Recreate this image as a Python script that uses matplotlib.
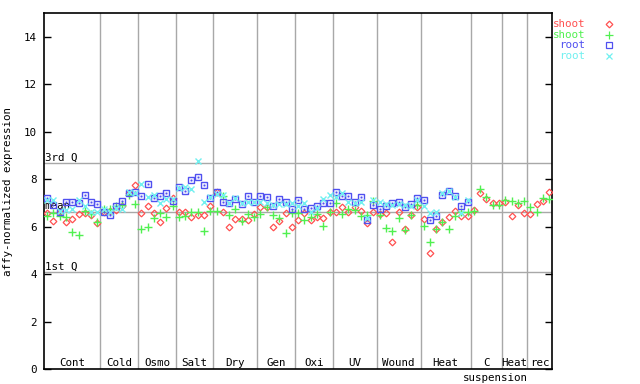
import matplotlib

matplotlib.use("Agg")

import matplotlib.pyplot as plt
import numpy as np

# sample groups along the x axis (number of chips in each)
categorias = ["Cont", "Cold", "Osmo", "Salt", "Dry", "Gen", "Oxi", "UV",
              "Wound", "Heat", "C", "Heat", "rec"]
sub_etiquetas = ["", "", "", "", "", "", "", "", "", "", "suspension", "", ""]
n_por_categoria = [9, 6, 6, 6, 7, 6, 6, 7, 7, 8, 5, 4, 4]

# reference lines
tercer_q = 8.67
media = 6.62
primer_q = 4.07

# shoot replicate 1 (red diamonds)
shoot_1 = [6.56, 6.25, 6.62, 6.20, 6.31, 6.52, 6.58, 6.49, 6.15,
           6.60, 6.66, 6.70, 6.85, 7.40, 7.75,
           6.56, 6.87, 6.56, 6.21, 6.77, 7.20,
           6.63, 6.63, 6.42, 6.49, 6.49, 6.87,
           7.47, 6.60, 6.00, 6.31, 6.31, 6.28, 6.53,
           6.81, 6.81, 5.97, 6.24, 6.56, 6.00,
           6.28, 6.59, 6.28, 6.42, 6.35, 6.63,
           6.63, 6.81, 6.63, 6.84, 6.66, 6.16, 6.63,
           6.52, 6.56, 5.35, 6.63, 5.90, 6.49, 6.82,
           6.31, 4.87, 5.88, 6.21, 6.39, 6.66, 6.45, 6.46,
           6.70, 7.40, 7.15, 7.01, 7.01,
           7.05, 6.45, 6.91, 6.56,
           6.53, 6.95, 7.08, 7.47]

# shoot replicate 2 (green plus)
shoot_2 = [6.45, 6.56, 6.45, 6.42, 5.79, 5.63, 6.66, 6.55, 6.18,
           6.74, 6.73, 6.87, 6.91, 7.35, 6.95,
           5.90, 5.97, 6.38, 6.59, 6.39, 6.87,
           6.42, 6.45, 6.60, 6.60, 5.82, 6.66,
           6.66, 7.30, 6.49, 6.73, 6.24, 6.52, 6.42,
           6.52, 6.81, 6.48, 6.38, 5.72, 6.56,
           6.59, 6.28, 6.42, 6.53, 6.03, 6.63,
           6.98, 6.53, 6.73, 6.70, 6.45, 6.49, 7.09,
           6.49, 5.93, 5.82, 6.35, 5.85, 6.49, 6.91,
           6.03, 5.34, 5.88, 6.18, 5.88, 6.46, 6.60, 6.63,
           6.67, 7.57, 7.23, 6.91, 6.91,
           7.12, 7.08, 7.01, 7.08,
           6.84, 6.63, 7.22, 7.15]

# root replicate 1 (blue squares)
root_1 = [7.22, 6.90, 6.63, 7.02, 7.02, 7.00, 7.34, 7.02, 6.95,
          6.62, 6.49, 6.86, 7.07, 7.40, 7.45,
          7.29, 7.78, 7.19, 7.29, 7.41, 7.08,
          7.65, 7.52, 7.95, 8.08, 7.75, 7.19,
          7.45, 7.02, 6.98, 7.15, 6.94, 7.29, 7.05,
          7.29, 7.23, 6.86, 7.15, 7.05, 6.73,
          7.10, 6.73, 6.77, 6.87, 6.98, 6.98,
          7.47, 7.27, 7.27, 7.05, 7.23, 6.28, 6.92,
          6.73, 6.87, 6.98, 7.02, 6.83, 6.96, 7.19,
          7.11, 6.28, 6.45, 7.33, 7.51, 7.30, 6.87, 7.05]

# root replicate 2 (cyan crosses)
root_2 = [7.13, 7.12, 6.65, 6.70, 6.75, 7.12, 6.87, 6.63, 6.62,
          6.75, 6.60, 6.77, 6.73, 7.47, 7.40,
          7.78, 7.26, 7.33, 7.01, 7.15, 7.15,
          7.64, 7.68, 7.60, 8.78, 7.05, 7.26,
          7.36, 7.33, 7.00, 7.22, 7.00, 7.05, 7.05,
          7.05, 7.00, 6.90, 6.95, 6.95, 7.01,
          6.85, 6.98, 6.60, 6.80, 7.15, 7.33,
          7.25, 7.40, 7.05, 7.00, 7.05, 6.35, 7.10,
          7.05, 6.95, 6.90, 6.95, 6.90, 6.85, 7.10,
          6.87, 6.59, 6.63, 7.43, 7.50, 7.23, 6.59, 7.12]

ROJO = "#ff5050"
VERDE = "#50f050"
AZUL = "#5050f0"
CIAN = "#70f0f0"
GRIS = "#a8a8a8"
FUENTE = "DejaVu Sans Mono"
TAM = 7.8

fig = plt.figure(figsize=(6.4, 3.84), dpi=100)
ax = fig.add_axes([44 / 640, 15 / 384, 508.3 / 640, 356 / 384])

n_total = sum(n_por_categoria)
ax.set_xlim(-0.5, n_total - 0.5)
ax.set_ylim(0, 15)

# category separators and labels
bordes = np.cumsum([0] + n_por_categoria) - 0.5
for b in bordes[1:-1]:
    ax.axvline(b, color=GRIS, lw=1.0, zorder=1)
for nombre, sub, ini, fin in zip(categorias, sub_etiquetas, bordes[:-1], bordes[1:]):
    ax.text((ini + fin) / 2, 0.45, nombre, ha="center", va="top",
            fontsize=TAM, family=FUENTE)
    if sub:
        ax.text((ini + fin) / 2 + 1.5, -0.17, sub, ha="center", va="top",
                fontsize=TAM, family=FUENTE, clip_on=False)

for valor, etiqueta in [(tercer_q, "3rd Q"), (media, "mean"), (primer_q, "1st Q")]:
    ax.axhline(valor, color=GRIS, lw=1.0, zorder=1)
    ax.text(-0.4, valor + 0.02, etiqueta, ha="left", va="bottom",
            fontsize=TAM, family=FUENTE)

x_shoot = np.arange(len(shoot_1))
x_root = np.arange(len(root_1))

ax.plot(x_shoot, shoot_1, ls="none", marker="D", ms=3.4, mfc="none",
        mec=ROJO, mew=0.9, zorder=3)
ax.plot(x_shoot, shoot_2, ls="none", marker="+", ms=6, mec=VERDE,
        mew=1.0, zorder=3)
ax.plot(x_root, root_1, ls="none", marker="s", ms=4.5, mfc="none",
        mec=AZUL, mew=1.0, zorder=3)
ax.plot(x_root, root_1, ls="none", marker="s", ms=1.0, mfc=AZUL,
        mec=AZUL, mew=0.3, zorder=3)
ax.plot(x_root, root_2, ls="none", marker="x", ms=4.5, mec=CIAN,
        mew=1.0, zorder=3)

ax.set_xticks([])
ax.set_yticks(range(0, 16, 2))
ax.tick_params(axis="y", direction="in", length=5, width=1, right=True,
               labelsize=TAM, pad=5)
for etiqueta in ax.get_yticklabels():
    etiqueta.set_family(FUENTE)
for lado in ax.spines.values():
    lado.set_linewidth(1.2)
ax.set_ylabel("affy-normalized expression", family=FUENTE, fontsize=TAM,
              labelpad=8)

# legend drawn by hand to the right of the axes
filas = [("shoot", ROJO, "D", 3.4), ("shoot", VERDE, "+", 6),
         ("root", AZUL, "s", 4.5), ("root", CIAN, "x", 4.5)]
for k, (texto, color, marca, tam) in enumerate(filas):
    y = 1 - (24 + k * 10.7 - 13) / 356
    ax.text(1.065, y, texto, transform=ax.transAxes, ha="right",
            va="center", color=color, fontsize=TAM, family=FUENTE,
            clip_on=False)
    ax.plot([1.1125], [y], transform=ax.transAxes, marker=marca, ms=tam,
            ls="none", mfc="none", mec=color, mew=0.9, clip_on=False)

fig.savefig("out.png", dpi=100)
